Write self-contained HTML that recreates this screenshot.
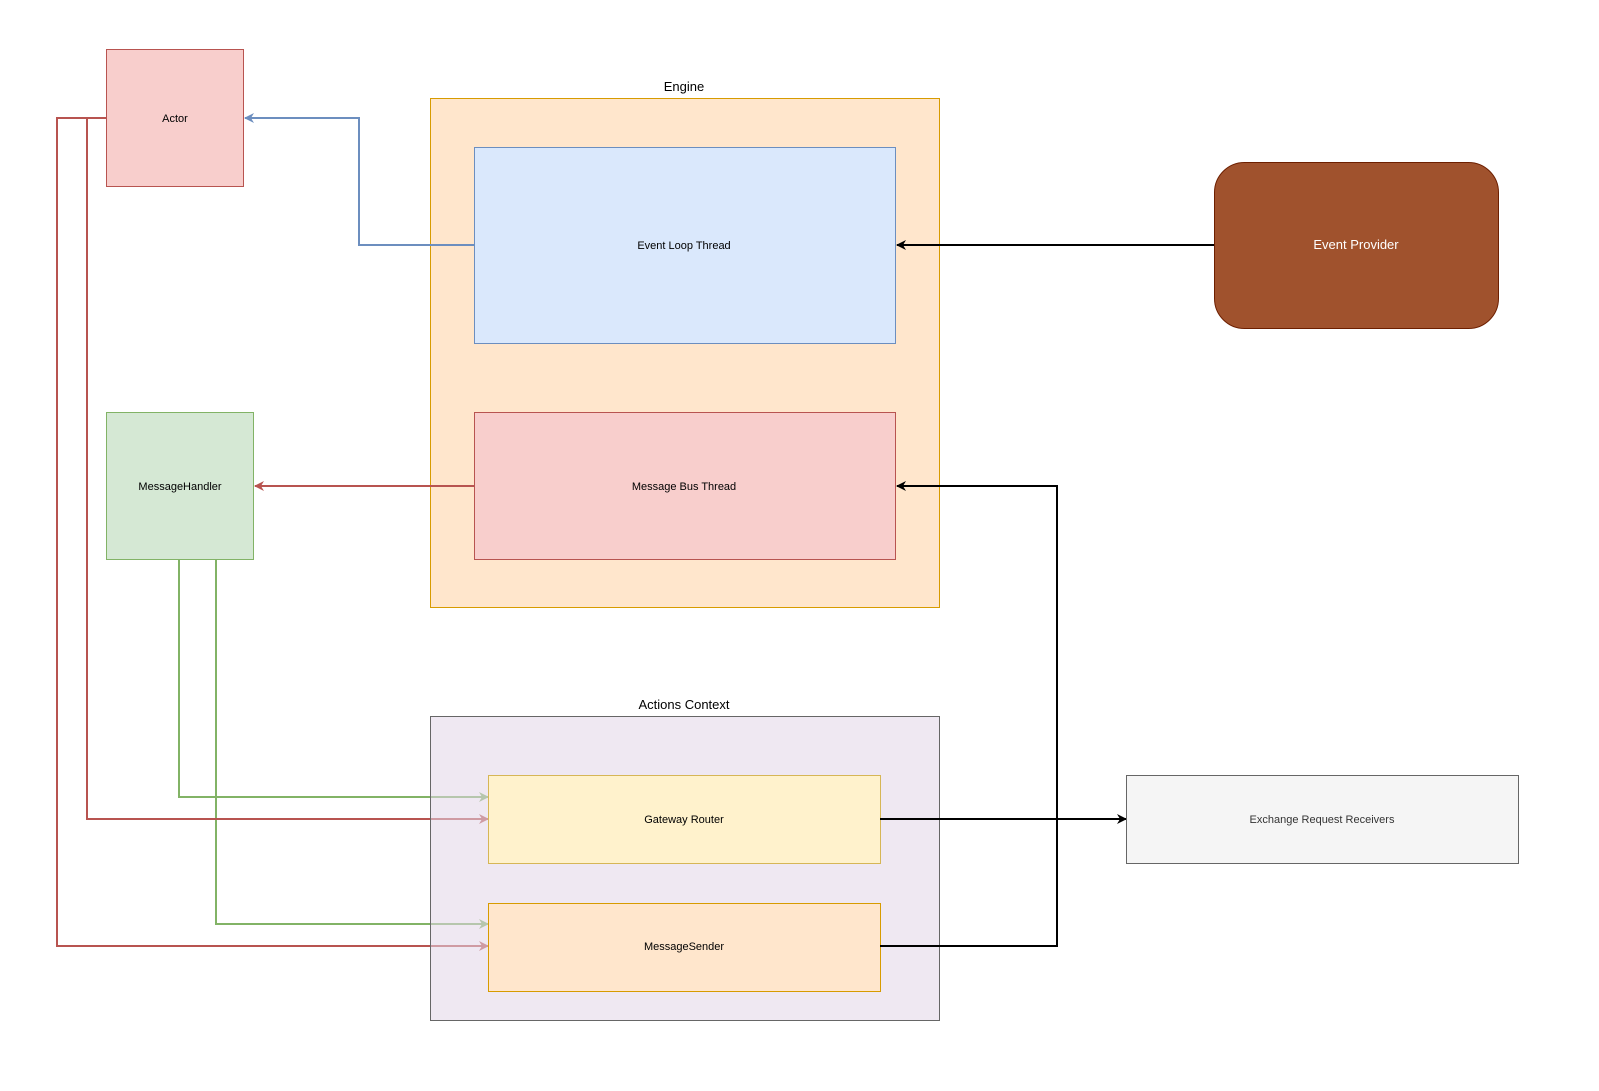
<!DOCTYPE html>
<html><head><meta charset="utf-8"><style>html,body{margin:0;padding:0;background:#fff}svg{display:block}</style></head>
<body>
<svg width="1599" height="1091" viewBox="0 0 1599 1091" xmlns="http://www.w3.org/2000/svg" font-family="Liberation Sans, Arial, sans-serif">
<defs>
<marker id="ab" viewBox="0 0 10 10" refX="9" refY="5" markerWidth="10" markerHeight="10" markerUnits="userSpaceOnUse" orient="auto"><path d="M0,0 L10,5 L0,10 L3,5 z" fill="#6c8ebf"/></marker>
<marker id="ar" viewBox="0 0 10 10" refX="9" refY="5" markerWidth="10" markerHeight="10" markerUnits="userSpaceOnUse" orient="auto"><path d="M0,0 L10,5 L0,10 L3,5 z" fill="#b85450"/></marker>
<marker id="ak" viewBox="0 0 10 10" refX="9" refY="5" markerWidth="10" markerHeight="10" markerUnits="userSpaceOnUse" orient="auto"><path d="M0,0 L10,5 L0,10 L3,5 z" fill="#000"/></marker>
<marker id="ag" viewBox="0 0 10 10" refX="9" refY="5" markerWidth="10" markerHeight="10" markerUnits="userSpaceOnUse" orient="auto"><path d="M0,0 L10,5 L0,10 L3,5 z" fill="#82b366"/></marker>
</defs>
<rect x="430.5" y="98.5" width="509" height="509" fill="#ffe6cc" stroke="#d79b00"/>
<text x="684" y="91" font-size="13" text-anchor="middle">Engine</text>
<rect x="474.5" y="147.5" width="421" height="196" fill="#dae8fc" stroke="#6c8ebf"/>
<text x="684" y="249" font-size="11" text-anchor="middle">Event Loop Thread</text>
<rect x="474.5" y="412.5" width="421" height="147" fill="#f8cecc" stroke="#b85450"/>
<text x="684" y="490" font-size="11" text-anchor="middle">Message Bus Thread</text>
<rect x="106.5" y="49.5" width="137" height="137" fill="#f8cecc" stroke="#b85450"/>
<text x="175" y="122" font-size="11" text-anchor="middle">Actor</text>
<rect x="106.5" y="412.5" width="147" height="147" fill="#d5e8d4" stroke="#82b366"/>
<text x="180" y="490" font-size="11" text-anchor="middle">MessageHandler</text>
<rect x="1214.5" y="162.5" width="284" height="166" rx="30" fill="#a0522d" stroke="#6d1f00"/>
<text x="1356" y="249" font-size="13" fill="#fff" text-anchor="middle">Event Provider</text>
<g fill="none" stroke-width="2">
<path d="M474,245 H359 V118 H245" stroke="#6c8ebf" marker-end="url(#ab)"/>
<path d="M474,486 H255" stroke="#b85450" marker-end="url(#ar)"/>
<path d="M1214,245 H897" stroke="#000" marker-end="url(#ak)"/>
<path d="M179,559 V797 H488" stroke="#82b366" marker-end="url(#ag)"/>
<path d="M216,559 V924 H488" stroke="#82b366" marker-end="url(#ag)"/>
<path d="M106,118 H87 V819 H488" stroke="#b85450" marker-end="url(#ar)"/>
<path d="M106,118 H57 V946 H488" stroke="#b85450" marker-end="url(#ar)"/>
</g>
<rect x="430.5" y="716.5" width="509" height="304" fill="#e1d5e7" fill-opacity="0.55" stroke="#666"/>
<text x="684" y="709" font-size="13" text-anchor="middle">Actions Context</text>
<rect x="488.5" y="775.5" width="392" height="88" fill="#fff2cc" stroke="#d6b656"/>
<text x="684" y="823" font-size="11" text-anchor="middle">Gateway Router</text>
<rect x="488.5" y="903.5" width="392" height="88" fill="#ffe6cc" stroke="#d79b00"/>
<text x="684" y="950" font-size="11" text-anchor="middle">MessageSender</text>
<g fill="none" stroke-width="2">
<path d="M880,946 H1057 V486 H897" stroke="#000" marker-end="url(#ak)"/>
<path d="M880,819 H1126" stroke="#000" marker-end="url(#ak)"/>
</g>
<rect x="1126.5" y="775.5" width="392" height="88" fill="#f5f5f5" stroke="#666"/>
<text x="1322" y="823" font-size="11" fill="#333" text-anchor="middle">Exchange Request Receivers</text>
</svg>
</body></html>
